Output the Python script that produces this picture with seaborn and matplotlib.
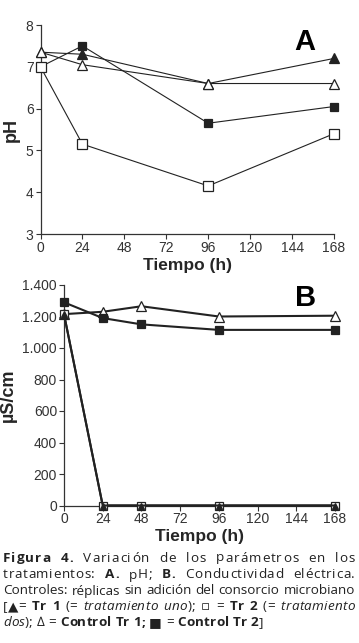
import numpy as np
import pandas as pd
import matplotlib
matplotlib.use("Agg")
import matplotlib.pyplot as plt
import matplotlib.ticker as mticker
import seaborn as sns

sns.set_theme(style="ticks")
plt.rcParams["font.family"] = ["Liberation Sans", "DejaVu Sans"]

# ── data ─────────────────────────────────────────────────────────────────────
horas_a  = [0, 24, 96, 168]
ph_tr1   = [7.35, 7.30, 6.60, 7.20]
ph_tr2   = [7.00, 5.15, 4.15, 5.40]
ph_ctrl1 = [7.35, 7.05, 6.60, 6.60]
ph_ctrl2 = [7.00, 7.50, 5.65, 6.05]

horas_b  = [0, 24, 48, 96, 168]
ce_tr1   = [1215, 0, 0, 0, 0]
ce_tr2   = [1215, 0, 0, 0, 0]
ce_ctrl1 = [1215, 1230, 1265, 1200, 1205]
ce_ctrl2 = [1290, 1190, 1150, 1115, 1115]

x_ticks = [0, 24, 48, 72, 96, 120, 144, 168]

W, H = 359, 643
fig = plt.figure(figsize=(W / 100, H / 100), dpi=100)


def px_axes(left, top, right, bottom):
    return fig.add_axes([left / W, 1 - bottom / H, (right - left) / W, (bottom - top) / H])


ax_a = px_axes(40.5, 25, 334, 234)
ax_b = px_axes(64, 285, 335, 505.5)

INK = "#222222"
STYLES = {
    "tr1":   dict(marker="^", markerfacecolor=INK),
    "tr2":   dict(marker="s", markerfacecolor="white"),
    "ctrl1": dict(marker="^", markerfacecolor="white"),
    "ctrl2": dict(marker="s", markerfacecolor=INK),
}


def draw(ax, x, y, key, lw, ms):
    df = pd.DataFrame({"x": x, "y": y})
    sns.lineplot(data=df, x="x", y="y", ax=ax, color=INK, linewidth=lw,
                 markersize=ms, markeredgecolor=INK, markeredgewidth=0.9,
                 clip_on=False, zorder=3, **STYLES[key])


# ── A: pH ────────────────────────────────────────────────────────────────────
draw(ax_a, horas_a, ph_tr1, "tr1", 0.8, 6.5)
draw(ax_a, horas_a, ph_ctrl2, "ctrl2", 0.8, 6)
draw(ax_a, horas_a, ph_ctrl1, "ctrl1", 0.8, 7)
draw(ax_a, horas_a, ph_tr2, "tr2", 0.8, 6.5)
ax_a.set_ylim(3, 8)
ax_a.set_yticks([3, 4, 5, 6, 7, 8])
ax_a.set_ylabel("pH", fontsize=13, fontweight="bold", labelpad=4)
ax_a.text(0.90, 0.92, "A", transform=ax_a.transAxes, fontsize=21,
          fontweight="bold", ha="center", va="center", color="black")

# ── B: conductividad ─────────────────────────────────────────────────────────
draw(ax_b, horas_b, ce_ctrl1, "ctrl1", 1.5, 6.5)
draw(ax_b, horas_b, ce_ctrl2, "ctrl2", 1.5, 6)
draw(ax_b, horas_b, ce_tr2, "tr2", 1.5, 6)
draw(ax_b, horas_b, ce_tr1, "tr1", 1.5, 5)
ax_b.set_ylim(0, 1400)
ax_b.set_yticks(range(0, 1401, 200))
ax_b.yaxis.set_major_formatter(
    mticker.FuncFormatter(lambda v, _: f"{v:,.0f}".replace(",", ".")))
ax_b.set_ylabel("µS/cm", fontsize=13, fontweight="bold", labelpad=4)
ax_b.text(0.89, 0.94, "B", transform=ax_b.transAxes, fontsize=21,
          fontweight="bold", ha="center", va="center", color="black")

for ax in (ax_a, ax_b):
    ax.set_xlim(0, 168)
    ax.set_xticks(x_ticks)
    ax.set_xlabel("Tiempo (h)", fontsize=12.5, fontweight="bold", labelpad=2)
    ax.tick_params(labelsize=10, length=3.5, width=0.8, color="#333333",
                   labelcolor="#333333", pad=1.5)
    sns.despine(ax=ax)
    for s in ("left", "bottom"):
        ax.spines[s].set_linewidth(0.9)
        ax.spines[s].set_color("#333333")

# ── caption (justified, word by word) ───────────────────────────────────────
CAP_FONT = ["Open Sans", "DejaVu Sans"]
CAP_SIZE = 9.7
R, B, I = "normal", "bold", "italic"
cap_lines = [
    [[("Figura", B)], [("4.", B)], [("Variación", R)], [("de", R)], [("los", R)],
     [("parámetros", R)], [("en", R)], [("los", R)]],
    [[("tratamientos:", R)], [("A.", B)], [("pH;", R)], [("B.", B)],
     [("Conductividad", R)], [("eléctrica.", R)]],
    [[(w, R)] for w in "Controles: réplicas sin adición del consorcio microbiano".split()],
    [[("[▲=", R)], [("Tr", B)], [("1", B)], [("(=", R)], [("tratamiento", I)],
     [("uno", I), (");", R)], [("▫", R)], [("=", R)], [("Tr", B)], [("2", B)],
     [("(=", R)], [("tratamiento", I)]],
    [[("dos", I), (");", R)], [("∆", R)], [("=", R)], [("Control", B)], [("Tr", B)],
     [("1;", B)], [("■", R)], [("=", R)], [("Control", B)], [("Tr", B)],
     [("2", B), ("]", R)]],
]
cap_track = [1.0, 0.6, 0, 0.3, 0.15]   # extra letter spacing per line, px
cap_y = [558, 575, 591, 607, 623]
x_left, x_right = 3, 355

fig.canvas.draw()
rend = fig.canvas.get_renderer()


def make(text, style):
    kw = dict(fontsize=CAP_SIZE, family=CAP_FONT, color=INK, va="center", ha="left")
    if style == B:
        kw["fontweight"] = "bold"
    if style == I:
        kw["fontstyle"] = "italic"
    t = fig.text(0, 0, text, **kw)
    return t, t.get_window_extent(rend).width


for li, (words, y) in enumerate(zip(cap_lines, cap_y)):
    track = cap_track[li]
    built = []
    for word in words:
        pieces = []
        for txt, st in word:
            chunks = list(txt) if track else [txt]
            for ch in chunks:
                t, w = make(ch, st)
                pieces.append((t, w + track))
        built.append((pieces, sum(w for _, w in pieces) - track))
    total = sum(w for _, w in built)
    last = li == len(cap_lines) - 1
    gap = 4.0 if last else (x_right - x_left - total) / (len(built) - 1)
    x = x_left
    for pieces, wsum in built:
        px = x
        for t, w in pieces:
            t.set_position((px / W, 1 - y / H))
            px += w
        x += wsum + gap

fig.savefig("out.png", dpi=100)
